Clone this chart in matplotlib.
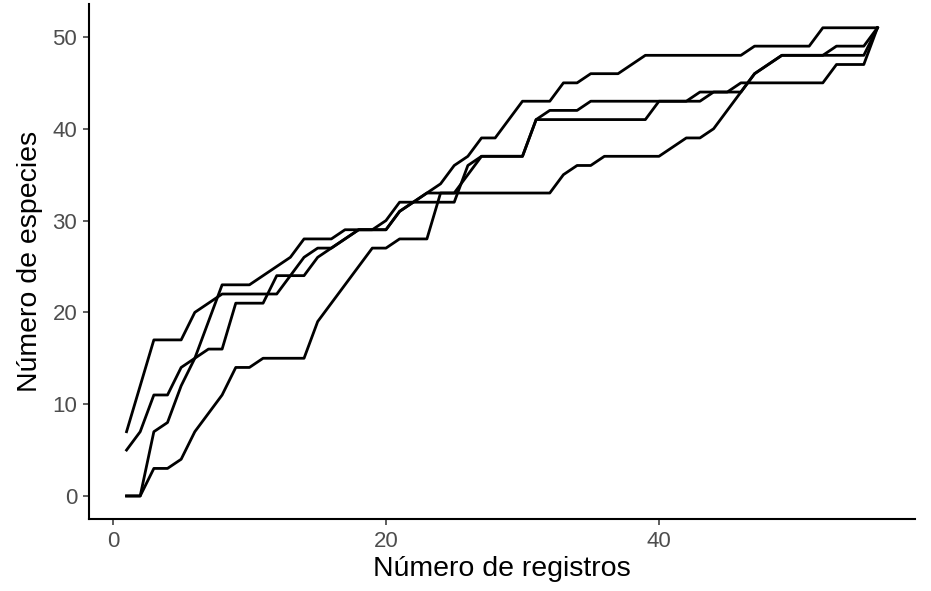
import numpy as np
import matplotlib
matplotlib.use("Agg")
from matplotlib import pyplot as plt

plt.rcParams["font.family"] = ["Liberation Sans", "DejaVu Sans"]

# datos: curvas de acumulacion de especies (4 aleatorizaciones)
registros = list(range(1, 57))

curva_a = [7, 12, 17, 17, 17, 20, 21, 22, 22, 22, 22, 22, 24, 26, 27, 27, 28, 29, 29, 30,
           32, 32, 32, 32, 32, 36, 37, 37, 37, 37, 41, 42, 42, 42, 43, 43, 43, 43, 43, 43,
           43, 43, 44, 44, 44, 45, 45, 45, 45, 45, 45, 45, 47, 47, 47, 51]
curva_b = [5, 7, 11, 11, 14, 15, 16, 16, 21, 21, 21, 24, 24, 24, 26, 27, 28, 29, 29, 29,
           31, 32, 33, 33, 33, 35, 37, 37, 37, 37, 41, 41, 41, 41, 41, 41, 41, 41, 41, 43,
           43, 43, 43, 44, 44, 44, 46, 47, 48, 48, 48, 48, 48, 48, 48, 51]
curva_c = [0, 0, 7, 8, 12, 15, 19, 23, 23, 23, 24, 25, 26, 28, 28, 28, 29, 29, 29, 29,
           31, 32, 33, 34, 36, 37, 39, 39, 41, 43, 43, 43, 45, 45, 46, 46, 46, 47, 48, 48,
           48, 48, 48, 48, 48, 48, 49, 49, 49, 49, 49, 51, 51, 51, 51, 51]
curva_d = [0, 0, 3, 3, 4, 7, 9, 11, 14, 14, 15, 15, 15, 15, 19, 21, 23, 25, 27, 27,
           28, 28, 28, 33, 33, 33, 33, 33, 33, 33, 33, 33, 35, 36, 36, 37, 37, 37, 37, 37,
           38, 39, 39, 40, 42, 44, 46, 47, 48, 48, 48, 48, 49, 49, 49, 51]

fig = plt.figure(figsize=(9.31, 5.91), dpi=100)
ax = fig.add_axes([0.0956, 0.1212, 0.9828 - 0.0956, 0.9926 - 0.1212])

for curva in [curva_a, curva_b, curva_c, curva_d]:
    ax.plot(registros, curva, color="black", lw=2.0, solid_joinstyle="round")

ax.set_xlim(-1.75, 58.75)
ax.set_ylim(-2.55, 53.55)
ax.set_xticks([0, 20, 40])
ax.set_yticks([0, 10, 20, 30, 40, 50])

for s in ["top", "right"]:
    ax.spines[s].set_visible(False)
for s in ["left", "bottom"]:
    ax.spines[s].set_linewidth(1.5)
    ax.spines[s].set_color("black")

ax.tick_params(axis="both", length=4.5, width=1.1, color="#333333",
               labelcolor="#4D4D4D", labelsize=16, pad=4)

ax.set_xlabel("Número de registros", fontsize=20.5, color="black", labelpad=3)
ax.set_ylabel("Número de especies", fontsize=20.5, color="black", labelpad=7)

fig.savefig("out.png", dpi=100)
